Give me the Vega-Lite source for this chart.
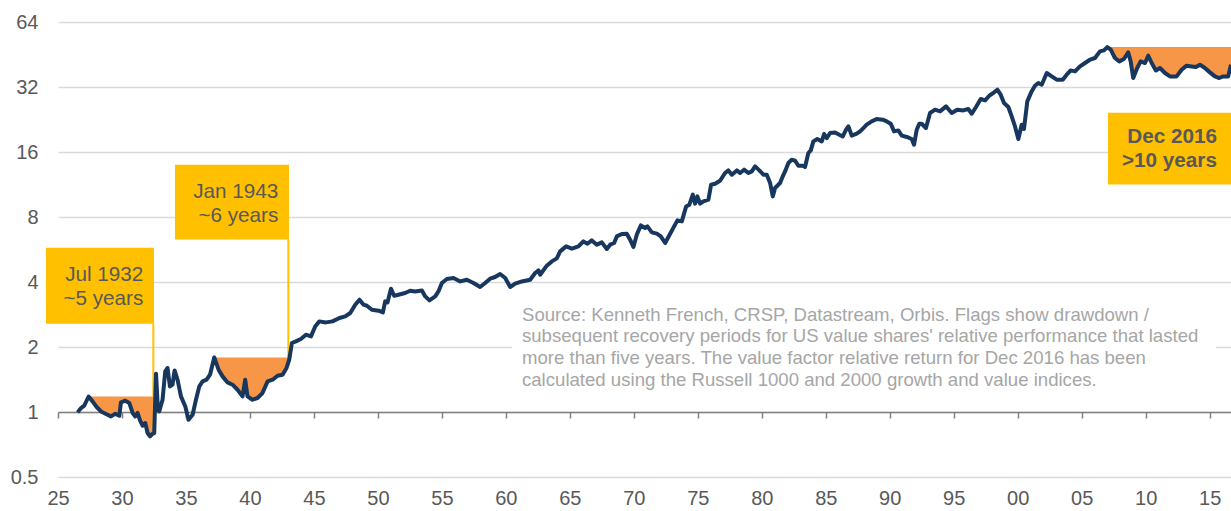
{
"$schema": "https://vega.github.io/schema/vega-lite/v6.json",
"width": 1173, "height": 455,
"autosize": {"type": "none"},
"padding": {"left": 58, "top": 22, "right": 0, "bottom": 34},
"background": "white",
"config": {"view": {"stroke": null}, "font": "Liberation Sans"},
"datasets": {
"series": [
{"year":1926.53,"value":0.996},{"year":1926.80,"value":1.043},{"year":1927.05,"value":1.069},
{"year":1927.39,"value":1.18,"hwm":1.18,"dd":"1932"},{"year":1927.70,"value":1.120,"hwm":1.18,"dd":"1932"},{"year":1928.02,"value":1.055,"hwm":1.18,"dd":"1932"},{"year":1928.36,"value":1.006,"hwm":1.18,"dd":"1932"},{"year":1928.75,"value":0.979,"hwm":1.18,"dd":"1932"},{"year":1929.14,"value":0.954,"hwm":1.18,"dd":"1932"},{"year":1929.48,"value":0.982,"hwm":1.18,"dd":"1932"},{"year":1929.79,"value":0.961,"hwm":1.18,"dd":"1932"},{"year":1929.92,"value":1.108,"hwm":1.18,"dd":"1932"},{"year":1930.26,"value":1.128,"hwm":1.18,"dd":"1932"},{"year":1930.57,"value":1.101,"hwm":1.18,"dd":"1932"},{"year":1930.83,"value":0.990,"hwm":1.18,"dd":"1932"},{"year":1931.04,"value":0.954,"hwm":1.18,"dd":"1932"},{"year":1931.22,"value":0.990,"hwm":1.18,"dd":"1932"},{"year":1931.41,"value":0.914,"hwm":1.18,"dd":"1932"},{"year":1931.61,"value":0.864,"hwm":1.18,"dd":"1932"},{"year":1931.82,"value":0.889,"hwm":1.18,"dd":"1932"},{"year":1932.00,"value":0.799,"hwm":1.18,"dd":"1932"},{"year":1932.19,"value":0.771,"hwm":1.18,"dd":"1932"},{"year":1932.39,"value":0.793,"hwm":1.18,"dd":"1932"},{"year":1932.52,"value":0.799,"hwm":1.18,"dd":"1932"},
{"year":1932.66,"value":1.504},{"year":1932.81,"value":1.025},{"year":1932.91,"value":1.006},{"year":1933.17,"value":1.140},{"year":1933.38,"value":1.542},{"year":1933.56,"value":1.599},{"year":1933.75,"value":1.314},{"year":1933.95,"value":1.338},{"year":1934.11,"value":1.558},{"year":1934.34,"value":1.411},{"year":1934.61,"value":1.181},{"year":1934.95,"value":1.061},{"year":1935.20,"value":0.921},{"year":1935.52,"value":0.971},{"year":1935.78,"value":1.140},{"year":1936.04,"value":1.314},{"year":1936.30,"value":1.386},{"year":1936.61,"value":1.411},{"year":1936.88,"value":1.488},
{"year":1937.21,"value":1.79,"hwm":1.79,"dd":"1943"},{"year":1937.55,"value":1.570,"hwm":1.79,"dd":"1943"},{"year":1937.86,"value":1.462,"hwm":1.79,"dd":"1943"},{"year":1938.25,"value":1.371,"hwm":1.79,"dd":"1943"},{"year":1938.64,"value":1.338,"hwm":1.79,"dd":"1943"},{"year":1939.03,"value":1.268,"hwm":1.79,"dd":"1943"},{"year":1939.42,"value":1.181,"hwm":1.79,"dd":"1943"},{"year":1939.63,"value":1.411,"hwm":1.79,"dd":"1943"},{"year":1939.81,"value":1.181,"hwm":1.79,"dd":"1943"},{"year":1940.20,"value":1.140,"hwm":1.79,"dd":"1943"},{"year":1940.59,"value":1.161,"hwm":1.79,"dd":"1943"},{"year":1940.98,"value":1.224,"hwm":1.79,"dd":"1943"},{"year":1941.38,"value":1.386,"hwm":1.79,"dd":"1943"},{"year":1941.77,"value":1.411,"hwm":1.79,"dd":"1943"},{"year":1942.16,"value":1.472,"hwm":1.79,"dd":"1943"},{"year":1942.55,"value":1.488,"hwm":1.79,"dd":"1943"},{"year":1942.86,"value":1.599,"hwm":1.79,"dd":"1943"},{"year":1943.07,"value":1.747,"hwm":1.79,"dd":"1943"},
{"year":1943.28,"value":2.087},{"year":1943.59,"value":2.123},{"year":1943.98,"value":2.178},{"year":1944.38,"value":2.280},{"year":1944.77,"value":2.240},{"year":1945.10,"value":2.491},{"year":1945.41,"value":2.628},{"year":1945.94,"value":2.600},{"year":1946.45,"value":2.628},{"year":1947.00,"value":2.725},{"year":1947.45,"value":2.772},{"year":1947.84,"value":2.874},{"year":1948.23,"value":3.140},{"year":1948.56,"value":3.312},{"year":1948.88,"value":3.140},{"year":1949.14,"value":3.106},{"year":1949.53,"value":2.977},{"year":1950.05,"value":2.945},{"year":1950.39,"value":2.892},{"year":1950.57,"value":3.253},{"year":1950.75,"value":3.218},{"year":1951.02,"value":3.724},{"year":1951.27,"value":3.456},{"year":1951.61,"value":3.494},{"year":1952.13,"value":3.557},{"year":1952.52,"value":3.646},{"year":1952.91,"value":3.618},{"year":1953.44,"value":3.657},{"year":1953.70,"value":3.430},{"year":1954.03,"value":3.287},{"year":1954.48,"value":3.430},{"year":1954.73,"value":3.618},{"year":1955.00,"value":3.958},{"year":1955.39,"value":4.130},{"year":1955.91,"value":4.175},{"year":1956.43,"value":4.025},{"year":1956.95,"value":4.098},{"year":1957.47,"value":3.958},{"year":1957.99,"value":3.792},{"year":1958.38,"value":3.958},{"year":1958.77,"value":4.143},{"year":1959.16,"value":4.219},{"year":1959.55,"value":4.356},{"year":1959.95,"value":4.175},{"year":1960.34,"value":3.792},{"year":1960.73,"value":3.928},{"year":1961.25,"value":4.025},{"year":1961.90,"value":4.098},{"year":1962.29,"value":4.402},{"year":1962.55,"value":4.526},{"year":1962.68,"value":4.323},{"year":1963.20,"value":4.760},{"year":1963.59,"value":4.983},{"year":1963.98,"value":5.145},{"year":1964.24,"value":5.544},{"year":1964.71,"value":5.848},{"year":1965.16,"value":5.705},{"year":1965.67,"value":5.848},{"year":1966.06,"value":6.168},{"year":1966.38,"value":6.018},{"year":1966.72,"value":6.233},{"year":1967.11,"value":5.955},{"year":1967.50,"value":6.102},
{"year":1967.89,"value":5.688},{"year":1968.15,"value":5.955},{"year":1968.46,"value":6.063},{"year":1968.67,"value":6.506},{"year":1969.06,"value":6.673},{"year":1969.45,"value":6.696},{"year":1969.71,"value":6.280},{"year":1969.97,"value":5.809},{"year":1970.23,"value":6.626},{"year":1970.55,"value":7.316},{"year":1970.88,"value":7.116},{"year":1971.06,"value":7.237},{"year":1971.41,"value":6.789},{"year":1971.80,"value":6.696},{"year":1972.11,"value":6.506},{"year":1972.45,"value":6.063},{"year":1972.84,"value":6.696},{"year":1973.15,"value":7.237},{"year":1973.41,"value":7.716},{"year":1973.75,"value":7.632},{"year":1974.09,"value":8.956},{"year":1974.34,"value":9.120},{"year":1974.61,"value":10.15},{"year":1974.79,"value":9.222},{"year":1974.97,"value":9.966},{"year":1975.18,"value":9.222},{"year":1975.44,"value":9.447},{"year":1975.83,"value":9.620},{"year":1976.04,"value":11.29},{"year":1976.35,"value":11.41},{"year":1976.74,"value":11.78},{"year":1977.13,"value":12.79},{"year":1977.39,"value":13.15},{"year":1977.66,"value":12.56},{"year":1978.05,"value":13.15},{"year":1978.30,"value":12.79},{"year":1978.62,"value":13.25},{"year":1978.95,"value":12.79},{"year":1979.22,"value":13.01},{"year":1979.48,"value":13.72},{"year":1979.81,"value":13.15},{"year":1980.13,"value":12.56},{"year":1980.39,"value":12.56},{"year":1980.65,"value":11.50},{"year":1980.86,"value":9.966},{"year":1981.04,"value":10.90},{"year":1981.43,"value":11.50},{"year":1981.64,"value":12.34},{"year":1981.82,"value":13.01},{"year":1982.08,"value":14.23},{"year":1982.34,"value":14.74},{"year":1982.60,"value":14.58},{"year":1982.86,"value":13.82},{"year":1983.20,"value":13.82},{"year":1983.38,"value":13.63},{"year":1983.64,"value":15.83},{"year":1983.83,"value":16.28},{"year":1984.03,"value":17.92},{"year":1984.34,"value":18.38},{"year":1984.69,"value":17.92},{"year":1984.87,"value":19.38},{"year":1985.08,"value":18.57},{"year":1985.34,"value":19.59},{"year":1985.73,"value":19.72},{"year":1986.06,"value":19.24},{"year":1986.33,"value":18.89},{"year":1986.59,"value":20.29},{"year":1986.77,"value":21.02},{"year":1987.03,"value":19.04},{"year":1987.42,"value":19.45},{"year":1987.68,"value":19.93},{"year":1987.94,"value":20.66},{"year":1988.20,"value":21.41},{"year":1988.59,"value":22.17},{"year":1988.98,"value":22.75},{"year":1989.45,"value":22.58},{"year":1989.77,"value":22.17},{"year":1990.08,"value":21.63},{"year":1990.34,"value":19.93},{"year":1990.67,"value":20.14},{"year":1990.94,"value":19.04},{"year":1991.33,"value":18.78},{"year":1991.72,"value":18.38},{"year":1991.90,"value":17.29},{"year":1992.11,"value":20.29},{"year":1992.31,"value":21.63},
{"year":1992.50,"value":21.63},{"year":1992.83,"value":20.66},{"year":1993.15,"value":24.25},{"year":1993.54,"value":25.12},{"year":1993.93,"value":24.68},{"year":1994.40,"value":26.03},{"year":1994.84,"value":24.25},{"year":1995.28,"value":25.12},{"year":1995.75,"value":24.93},{"year":1996.14,"value":25.31},{"year":1996.41,"value":24.07},{"year":1996.74,"value":25.85},{"year":1997.11,"value":28.15},{"year":1997.45,"value":27.74},{"year":1997.78,"value":29.16},{"year":1998.09,"value":30.02},{"year":1998.41,"value":31.09},{"year":1998.67,"value":29.48},{"year":1998.93,"value":26.98},{"year":1999.27,"value":25.85},{"year":1999.53,"value":23.39},{"year":1999.79,"value":21.02},{"year":2000.05,"value":18.38},{"year":2000.31,"value":21.41},{"year":2000.49,"value":20.45},{"year":2000.75,"value":27.44},{"year":2001.09,"value":30.53},{"year":2001.35,"value":32.44},{"year":2001.61,"value":33.40},{"year":2001.88,"value":32.79},{"year":2002.27,"value":37.15},{"year":2002.66,"value":35.83},{"year":2003.05,"value":34.59},{"year":2003.52,"value":34.59},{"year":2003.83,"value":36.49},{"year":2004.14,"value":38.19},{"year":2004.48,"value":37.79},{"year":2004.87,"value":39.86},{"year":2005.26,"value":41.33},{"year":2005.65,"value":42.81},{"year":2006.04,"value":43.59},{"year":2006.43,"value":46.78},{"year":2006.74,"value":47.28},
{"year":2007.00,"value":49.0,"hwm":49.0,"dd":"2016"},{"year":2007.27,"value":47.63,"hwm":49.0,"dd":"2016"},{"year":2007.60,"value":43.59,"hwm":49.0,"dd":"2016"},{"year":2007.94,"value":42.05,"hwm":49.0,"dd":"2016"},{"year":2008.30,"value":43.14,"hwm":49.0,"dd":"2016"},{"year":2008.64,"value":46.27,"hwm":49.0,"dd":"2016"},{"year":2008.83,"value":42.05,"hwm":49.0,"dd":"2016"},{"year":2009.03,"value":35.22,"hwm":49.0,"dd":"2016"},{"year":2009.34,"value":39.18,"hwm":49.0,"dd":"2016"},{"year":2009.61,"value":42.05,"hwm":49.0,"dd":"2016"},{"year":2009.95,"value":41.33,"hwm":49.0,"dd":"2016"},{"year":2010.20,"value":44.69,"hwm":49.0,"dd":"2016"},{"year":2010.47,"value":41.33,"hwm":49.0,"dd":"2016"},{"year":2010.80,"value":38.19,"hwm":49.0,"dd":"2016"},{"year":2011.12,"value":39.18,"hwm":49.0,"dd":"2016"},{"year":2011.51,"value":37.15,"hwm":49.0,"dd":"2016"},{"year":2011.90,"value":35.83,"hwm":49.0,"dd":"2016"},{"year":2012.42,"value":35.83,"hwm":49.0,"dd":"2016"},{"year":2012.81,"value":38.48,"hwm":49.0,"dd":"2016"},{"year":2013.20,"value":40.17,"hwm":49.0,"dd":"2016"},{"year":2013.59,"value":39.86,"hwm":49.0,"dd":"2016"},{"year":2013.93,"value":39.61,"hwm":49.0,"dd":"2016"},{"year":2014.24,"value":40.59,"hwm":49.0,"dd":"2016"},{"year":2014.63,"value":39.18,"hwm":49.0,"dd":"2016"},{"year":2015.02,"value":37.40,"hwm":49.0,"dd":"2016"},{"year":2015.41,"value":35.83,"hwm":49.0,"dd":"2016"},{"year":2015.75,"value":35.22,"hwm":49.0,"dd":"2016"},{"year":2016.06,"value":35.83,"hwm":49.0,"dd":"2016"},{"year":2016.45,"value":35.83,"hwm":49.0,"dd":"2016"},{"year":2016.67,"value":40.59,"hwm":49.0,"dd":"2016"}
],
"flags": [
{"year":1924.06,"year2":1932.50,"value":5.77,"value2":2.56},
{"year":1934.14,"year2":1943.05,"value":13.97,"value2":6.30},
{"year":2007.06,"year2":2018.0,"value":24.3,"value2":11.3}
],
"poles": [
{"year":1932.45,"value":2.56,"value2":1.18},
{"year":1943.0,"value":6.30,"value2":1.79}
],
"flagText": [
{"year":1931.67,"value":4.323,"label":"Jul 1932\n~5 years"},
{"year":1942.22,"value":10.48,"label":"Jan 1943\n~6 years"}
],
"flagTextBold": [
{"year":2015.57,"value":18.83,"label":"Dec 2016\n>10 years"}
],
"noteBox": [
{"year":1960.48,"year2":2015.5,"value":3.31,"value2":1.15}
],
"note": [
{"year":1961.26,"value":2.822,"label":"Source: Kenneth French, CRSP, Datastream, Orbis. Flags show drawdown /\nsubsequent recovery periods for US value shares' relative performance that lasted\nmore than five years. The value factor relative return for Dec 2016 has been\ncalculated using the Russell 1000 and 2000 growth and value indices."}
]
},
"encoding": {
"x": {"field": "year", "type": "quantitative",
 "scale": {"domain": [1925, 2016.67], "nice": false, "zero": false},
 "axis": {"title": null, "values": [1925,1930,1935,1940,1945,1950,1955,1960,1965,1970,1975,1980,1985,1990,1995,2000,2005,2010,2015],
  "labelExpr": "substring(toString(datum.value), 2, 4)", "grid": false, "offset": -65,
  "domainColor": "#808080", "domainWidth": 1.5, "tickColor": "#808080", "tickWidth": 1.5, "tickSize": 6,
  "labelPadding": 70, "labelFont": "Liberation Sans", "labelFontSize": 20, "labelColor": "#595959",
  "labelFlush": false, "labelOverlap": false}},
"y": {"field": "value", "type": "quantitative",
 "scale": {"type": "log", "base": 2, "domain": [0.5, 64], "nice": false},
 "axis": {"title": null, "values": [0.5,1,2,4,8,16,32,64], "format": "~g", "domain": false, "ticks": false,
  "labelPadding": 20, "grid": true, "gridColor": "#d9d9d9", "gridWidth": 1.5,
  "labelFont": "Liberation Sans", "labelFontSize": 20, "labelColor": "#595959"}}
},
"layer": [
{"data": {"name": "noteBox"}, "mark": {"type": "rect", "color": "white"},
 "encoding": {"x2": {"field": "year2"}, "y2": {"field": "value2"}}},
{"data": {"name": "series"}, "transform": [{"filter": "datum.dd != null"}],
 "mark": {"type": "area", "color": "#F79646", "opacity": 1},
 "encoding": {"y2": {"field": "hwm"}, "detail": {"field": "dd"}}},
{"data": {"name": "poles"}, "mark": {"type": "rule", "color": "#FFC000", "strokeWidth": 2},
 "encoding": {"y2": {"field": "value2"}}},
{"data": {"name": "flags"}, "mark": {"type": "rect", "color": "#FFC000"},
 "encoding": {"x2": {"field": "year2"}, "y2": {"field": "value2"}}},
{"data": {"name": "series"}, "mark": {"type": "line", "color": "#17375E", "strokeWidth": 4, "strokeJoin": "round"}},
{"data": {"name": "flagText"}, "mark": {"type": "text", "align": "right", "baseline": "middle", "fontSize": 20.7, "lineHeight": 24.5, "lineBreak": "\n", "color": "#595959", "font": "Liberation Sans"},
 "encoding": {"text": {"field": "label"}}},
{"data": {"name": "flagTextBold"}, "mark": {"type": "text", "align": "right", "baseline": "middle", "fontSize": 20.7, "lineHeight": 24.5, "lineBreak": "\n", "color": "#595959", "fontWeight": "bold", "font": "Liberation Sans"},
 "encoding": {"text": {"field": "label"}}},
{"data": {"name": "note"}, "mark": {"type": "text", "align": "left", "baseline": "middle", "fontSize": 18.6, "lineHeight": 21.6, "lineBreak": "\n", "color": "#a6a6a6", "font": "Liberation Sans"},
 "encoding": {"text": {"field": "label"}}}
]
}
